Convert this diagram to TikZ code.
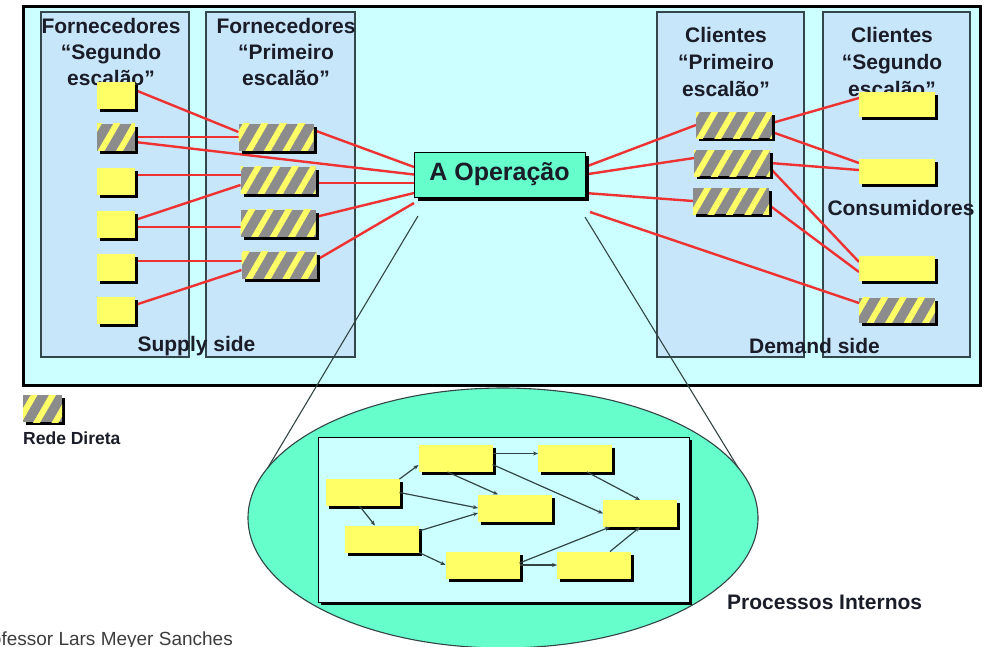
\documentclass[tikz,border=0pt]{standalone}
\usepackage{fontspec}
\setmainfont{Liberation Sans}
\usetikzlibrary{patterns.meta,shadows,shapes.geometric,arrows.meta}
\definecolor{outerfill}{RGB}{204,255,255}
\definecolor{colfill}{RGB}{200,230,250}
\definecolor{colline}{RGB}{50,70,75}
\definecolor{boxyellow}{RGB}{255,255,102}
\definecolor{hatchgray}{RGB}{140,140,140}
\definecolor{mint}{RGB}{102,255,204}
\definecolor{redline}{RGB}{238,50,50}
\definecolor{txt}{RGB}{26,28,40}
\definecolor{darkline}{RGB}{50,68,68}
\definecolor{footgray}{RGB}{60,60,60}
\pgfdeclarelayer{bg}
\pgfdeclarelayer{mid}
\pgfsetlayers{bg,mid,main}
\tikzset{
  ybox/.style={rectangle, inner sep=0pt, outer sep=0pt, fill=boxyellow,
    drop shadow={fill=black, opacity=1, shadow xshift=3pt, shadow yshift=-3pt}},
  hbox/.style={rectangle, inner sep=0pt, outer sep=0pt,
    drop shadow={fill=black, opacity=1, shadow xshift=3pt, shadow yshift=-3pt},
    preaction={fill=hatchgray},
    pattern={Lines[angle=60,distance=16pt,line width=6pt]}, pattern color=boxyellow},
  colbox/.style={draw=colline, line width=1.1pt, fill=colfill},
  hdr/.style={font=\fontsize{21}{26}\selectfont\bfseries, align=center, inner sep=0pt, text=txt, anchor=north},
  hdrb/.style={font=\fontsize{21}{27}\selectfont\bfseries, align=center, inner sep=0pt, text=txt, anchor=north},
  lbl/.style={font=\fontsize{21}{25}\selectfont\bfseries, inner sep=0pt, text=txt},
  red/.style={draw=redline, line width=2.4pt},
  parrow/.style={draw=darkline, line width=1.2pt, -{Stealth[length=5pt,width=4pt]}},
  lens/.style={draw=darkline, line width=1.1pt},
  sq/.style={minimum width=38pt, minimum height=27pt},
  wide/.style={minimum width=75pt, minimum height=27pt},
  cwide/.style={minimum width=76pt, minimum height=26pt},
  dwide/.style={minimum width=76pt, minimum height=25pt},
  pbox/.style={ybox, minimum width=74pt, minimum height=27pt},
}
\begin{document}
\begin{tikzpicture}[x=1pt,y=-1pt]
\useasboundingbox (0,0) rectangle (992,646);

\begin{pgfonlayer}{bg}
  \draw[line width=3pt, fill=outerfill] (23.5,6) rectangle (980,385);
  \draw[colbox] (41,12) rectangle (189,357);
  \draw[colbox] (206,12) rectangle (355,357);
  \draw[colbox] (657,12) rectangle (804,357);
  \draw[colbox] (823,12) rectangle (970,357);
  \node[hdr] (t1) at (111,18) {Fornecedores\\“Segundo\\escalão”};
  \node[hdr] (t2) at (286,18) {Fornecedores\\“Primeiro\\escalão”};
  \node[hdrb] (t3) at (726,27) {Clientes\\“Primeiro\\escalão”};
  \node[hdrb] (t4) at (892,27) {Clientes\\“Segundo\\escalão”};
\end{pgfonlayer}

% supply side boxes
\node[ybox,sq] (s1) at (116,95) {};
\node[hbox,sq] (s2) at (116,137) {};
\node[ybox,sq] (s3) at (116,181) {};
\node[ybox,sq] (s4) at (116,224) {};
\node[ybox,sq] (s5) at (116,267) {};
\node[ybox,sq] (s6) at (116,310) {};
\node[hbox,wide] (h1) at (276,137) {};
\node[hbox,wide] (h2) at (278,180) {};
\node[hbox,wide] (h3) at (278,223) {};
\node[hbox,wide] (h4) at (279,265) {};
% demand side boxes
\node[hbox,cwide] (c1) at (734,125) {};
\node[hbox,cwide] (c2) at (732,163) {};
\node[hbox,cwide] (c3) at (731,201) {};
\node[ybox,dwide] (d1) at (897,104) {};
\node[ybox,dwide] (d2) at (897,171) {};
\node[ybox,dwide] (d3) at (897,268) {};
\node[hbox,dwide] (d4) at (897,310) {};
% operation
\node[rectangle, draw=black, line width=1pt, fill=mint, minimum width=171pt, minimum height=45pt,
  inner sep=0pt, outer sep=0pt, text=txt, font=\fontsize{25}{28}\selectfont\bfseries,
  drop shadow={fill=black, opacity=1, shadow xshift=4pt, shadow yshift=-4pt}] (op) at (499.5,174.5) {A Operação};

\node[lbl] (supply) at (196.5,346) {Supply side};
\node[lbl] (demand) at (814.5,346) {Demand side};
\node[lbl] (cons) at (901,208) {Consumidores};

\coordinate (opd) at ([xshift=5pt,yshift=-37.5pt]op.east);
\begin{pgfonlayer}{mid}
  \draw[red] ([yshift=5pt]s1.east) -- ([yshift=5pt]h1.west);
  \draw[red] (s2.east) -- (h1.west);
  \draw[red] ([yshift=-5pt]s2.east) -- (op.west);
  \draw[red] ([yshift=6pt]s3.east) -- ([yshift=5pt]h2.west);
  \draw[red] ([yshift=4pt]s4.east) -- ([yshift=-5pt]h2.west);
  \draw[red] ([yshift=-3pt]s4.east) -- ([yshift=-4pt]h3.west);
  \draw[red] ([yshift=6pt]s5.east) -- ([yshift=4pt]h4.west);
  \draw[red] ([yshift=5pt]s6.east) -- ([yshift=-5pt]h4.west);
  \draw[red] ([yshift=7pt]h1.east) -- ([yshift=7.5pt]op.west);
  \draw[red] ([yshift=-3pt]h2.east) -- ([yshift=-8.5pt]op.west);
  \draw[red] ([yshift=6pt]h3.east) -- ([yshift=-18.5pt]op.west);
  \draw[red] ([yshift=5pt]h4.east) -- ([yshift=-28.5pt]op.west);
  \draw[red] ([yshift=7.5pt]op.east) -- (c1.west);
  \draw[red] (op.east) -- ([yshift=5pt]c2.west);
  \draw[red] ([yshift=-18.5pt]op.east) -- (c3.west);
  \draw[red] (opd) -- ([yshift=7pt]d4.west);
  \draw[red] ([yshift=2pt]c1.east) -- ([yshift=6pt]d1.west);
  \draw[red] ([yshift=-7pt]c1.east) -- ([yshift=8pt]d2.west);
  \draw[red] (c2.east) -- ([yshift=1pt]d2.west);
  \draw[red] ([yshift=-5pt]c2.east) -- ([yshift=6pt]d3.west);
  \draw[red] ([yshift=-4pt]c3.east) -- ([yshift=-4pt]d3.west);
\end{pgfonlayer}

% legend
\node[hbox, minimum width=39pt, minimum height=27pt] (leg) at (42.5,408.5) {};
\node[font=\fontsize{17.5}{20}\selectfont\bfseries, text=txt, inner sep=0pt, anchor=west] (legtxt) at (23,438) {Rede Direta};

% internal processes
\node[ellipse, draw=darkline, line width=1.1pt, fill=mint, minimum width=510pt, minimum height=260pt,
  inner sep=0pt, outer sep=0pt] (ell) at (503,518) {};
\coordinate (lensl) at ([xshift=4pt,yshift=-19pt]op.south west);
\coordinate (lensr) at ([yshift=-20pt]op.south east);
\draw[lens] (lensl) -- (ell.168.5);
\draw[lens] (lensr) -- (ell.12.3);
\node[rectangle, draw=black, line width=0.8pt, fill=outerfill, minimum width=371pt, minimum height=165pt,
  inner sep=0pt, outer sep=0pt,
  drop shadow={fill=black, opacity=1, shadow xshift=3pt, shadow yshift=-3pt}] (proc) at (503.5,519.5) {};
\node[pbox] (b1) at (455.5,458.5) {};
\node[pbox] (b2) at (575,458.5) {};
\node[pbox] (b3) at (362.5,492.5) {};
\node[pbox] (b4) at (515,508) {};
\node[pbox] (b5) at (640,513.5) {};
\node[pbox] (b6) at (382,539) {};
\node[pbox] (b7) at (482.5,565) {};
\node[pbox] (b8) at (594,565) {};
\draw[parrow] ([yshift=5pt]b1.east) -- ([yshift=5pt]b2.west);
\draw[parrow] (b3.20) -- (b1.190);
\draw[parrow] ([xshift=-8pt]b1.south) -- ([xshift=-17pt]b4.north);
\draw[parrow] ([yshift=-6pt]b1.east) -- (b5.west);
\draw[parrow] ([xshift=12pt]b2.south) -- (b5.north);
\draw[parrow] (b3.east) -- (b4.west);
\draw[parrow] ([xshift=-3pt]b3.south) -- ([xshift=-7pt]b6.north);
\draw[parrow] ([yshift=8pt]b6.east) -- ([yshift=-5pt]b4.west);
\draw[parrow] (b6.south east) -- (b7.west);
\draw[parrow] (b7.east) -- (b8.west);
\draw[parrow] ([yshift=2pt]b7.east) -- ([xshift=-30pt]b5.south);
\draw[parrow] ([xshift=16pt]b8.north) -- (b5.south);

\node[font=\fontsize{21}{25}\selectfont\bfseries, text=txt, inner sep=0pt, anchor=west] (proctxt) at (727,602) {Processos Internos};
\node[font=\fontsize{19}{22}\selectfont, text=footgray, inner sep=0pt, anchor=base east] (foot) at (233,645) {Professor Lars Meyer Sanches};
\end{tikzpicture}
\end{document}
